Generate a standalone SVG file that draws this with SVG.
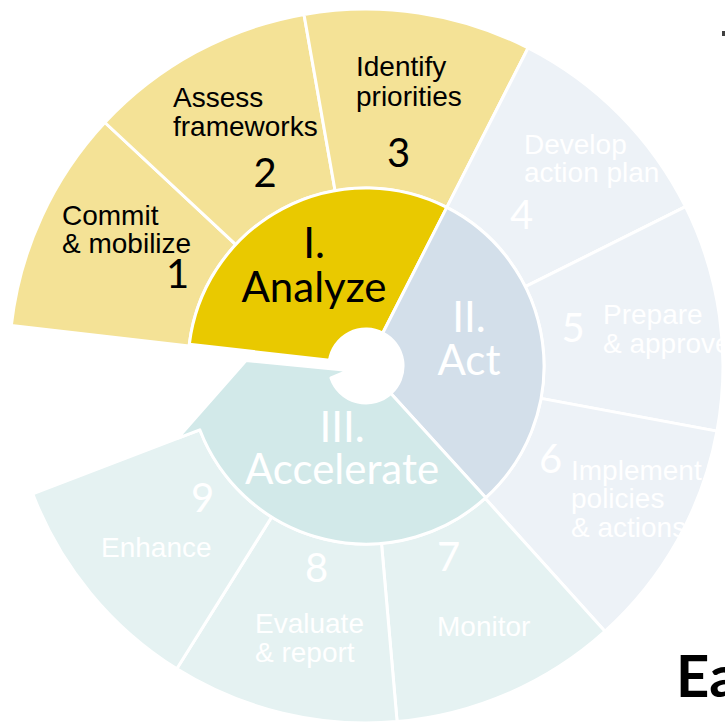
<svg xmlns="http://www.w3.org/2000/svg" width="725" height="724" viewBox="0 0 725 724">
<style>
.seg{stroke:#fff;stroke-width:3;stroke-linejoin:round}
.y{fill:#F4E296}
.b{fill:#EDF2F7}
.t{fill:#E5F2F2}
.lbl{font-family:"Liberation Sans",Arial,sans-serif;font-size:28px}
.num{font-family:Lato,"Liberation Sans",sans-serif;font-size:40px;text-anchor:middle}
.ph{font-family:Lato,"Liberation Sans",sans-serif;font-size:42px;text-anchor:middle}
.dk{fill:#000}
.wt{fill:#fff}
</style>
<rect width="725" height="724" fill="#fff"/>
<g id="outer">
<g id="seg1"><path class="seg y" d="M189.1,345.9 L11.3,325.6 A357,357 0 0 1 104.9,122.5 L235.8,244.6 A178,178 0 0 0 189.1,345.9 Z"/>
<text class="lbl dk" x="62" y="225">Commit</text><text class="lbl dk" x="62" y="253">&amp; mobilize</text><text class="num dk" x="177.5" y="288">1</text></g>
<g id="seg2"><path class="seg y" d="M235.8,244.6 L104.9,122.5 A357,357 0 0 1 304,14.4 L335.1,190.7 A178,178 0 0 0 235.8,244.6 Z"/>
<text class="lbl dk" x="173" y="107">Assess</text><text class="lbl dk" x="173" y="136">frameworks</text><text class="num dk" x="265" y="187">2</text></g>
<g id="seg3"><path class="seg y" d="M335.1,190.7 L304,14.4 A357,357 0 0 1 528.1,47.9 L446.8,207.4 A178,178 0 0 0 335.1,190.7 Z"/>
<text class="lbl dk" x="356" y="76">Identify</text><text class="lbl dk" x="356" y="106">priorities</text><text class="num dk" x="398.5" y="167">3</text></g>
<g id="seg4"><path class="seg b" d="M446.8,207.4 L528.1,47.9 A357,357 0 0 1 685.5,206.7 L525.3,286.6 A178,178 0 0 0 446.8,207.4 Z"/>
<text class="lbl wt" x="524" y="154">Develop</text><text class="lbl wt" x="524" y="182">action plan</text><text class="num wt" x="521.5" y="229">4</text></g>
<g id="seg5"><path class="seg b" d="M525.3,286.6 L685.5,206.7 A357,357 0 0 1 717,431.1 L541,398.4 A178,178 0 0 0 525.3,286.6 Z"/>
<text class="lbl wt" x="603" y="324">Prepare</text><text class="lbl wt" x="603" y="353">&amp; approve</text><text class="num wt" x="573" y="342">5</text></g>
<g id="seg6"><path class="seg b" d="M541,398.4 L717,431.1 A357,357 0 0 1 604.9,631.3 L485.1,498.3 A178,178 0 0 0 541,398.4 Z"/>
<text class="lbl wt" x="571" y="480">Implement</text><text class="lbl wt" x="571" y="508">policies</text><text class="lbl wt" x="571" y="537">&amp; actions</text><text class="num wt" x="550.5" y="473">6</text></g>
<g id="seg7"><path class="seg t" d="M485.1,498.3 L604.9,631.3 A357,357 0 0 1 397.1,721.6 L381.5,543.3 A178,178 0 0 0 485.1,498.3 Z"/>
<text class="lbl wt" x="437" y="636">Monitor</text><text class="num wt" x="448.5" y="571">7</text></g>
<g id="seg8"><path class="seg t" d="M381.5,543.3 L397.1,721.6 A357,357 0 0 1 176.8,668.8 L271.7,517 A178,178 0 0 0 381.5,543.3 Z"/>
<text class="lbl wt" x="255" y="633">Evaluate</text><text class="lbl wt" x="255" y="662">&amp; report</text><text class="num wt" x="316.5" y="582">8</text></g>
<g id="seg9"><path class="seg t" d="M271.7,517 L176.8,668.8 A357,357 0 0 1 32.7,493.9 L199.8,429.8 A178,178 0 0 0 271.7,517 Z"/>
<text class="lbl wt" x="101" y="557">Enhance</text><text class="num wt" x="202.5" y="512">9</text></g>
</g>
<g id="inner">
<g id="analyze"><path class="seg" fill="#E9C900" d="M189.3,344.3 A178,178 0 0 1 446.8,207.4 L382.8,333 A37,37 0 0 0 329.5,360.2 Z"/>
<text class="ph dk" x="314" y="258">I.</text><text class="ph dk" x="314" y="302">Analyze</text></g>
<g id="act"><path class="seg" fill="#D3DFEA" d="M446.8,207.4 A178,178 0 0 1 485.8,497.7 L390.9,393.4 A37,37 0 0 0 382.8,333 Z"/>
<text class="ph wt" x="469" y="332">II.</text><text class="ph wt" x="469" y="375">Act</text></g>
<g id="accelerate"><path class="seg" fill="#D2E9E9" d="M390.9,393.4 L485.8,497.7 A178,178 0 0 1 199.8,429.8 L177.4,438.4 L246,360.5 L349,370.5 L331,378 A37,37 0 0 0 390.9,393.4 Z"/>
<text class="ph wt" x="342" y="442">III.</text><text class="ph wt" x="342" y="484">Accelerate</text></g>
</g>
<g id="connectors"></g>
<text x="676" y="697" font-family="Lato,'Liberation Sans',sans-serif" font-weight="bold" font-size="58" fill="#000">Ea</text>
<rect x="722" y="31" width="3" height="5" fill="#404040"/>
</svg>
